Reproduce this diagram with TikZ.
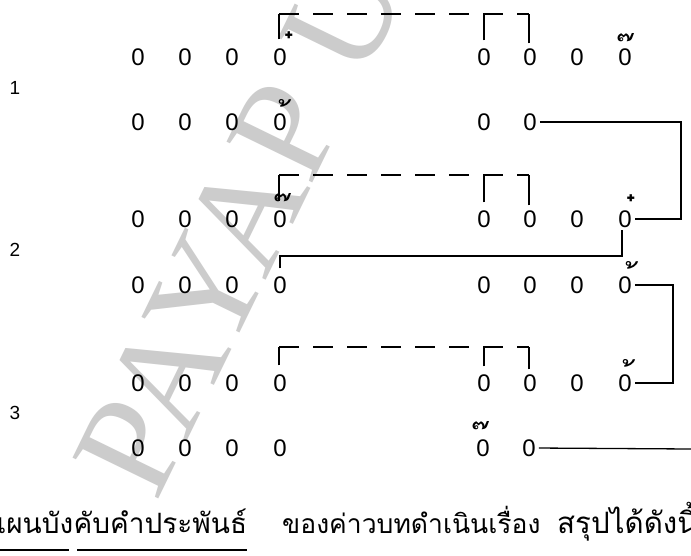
\documentclass[tikz,border=0pt]{standalone}
\usepackage{fontspec}
\setmainfont{Liberation Sans}
\newfontfamily\thaifont[Script=Thai]{Loma}
\newfontfamily\wmfont{Liberation Serif}
\begin{document}
\begin{tikzpicture}[x=1pt,y=-1pt,
  syl/.style={inner sep=0pt, font=\fontsize{24}{24}\selectfont},
  tone/.style={inner sep=0pt, font=\thaifont\fontsize{34}{34}\selectfont},
  rowlab/.style={inner sep=0pt, font=\fontsize{19}{19}\selectfont},
  thtext/.style={inner sep=0pt, anchor=base west, font=\thaifont\fontsize{28}{28}\selectfont},
  conn/.style={line width=1.3pt},
  dashln/.style={line width=1.3pt, dash pattern=on 20pt off 14pt},
  wm/.style={inner sep=0pt, text=black!20, font=\wmfont\fontsize{145}{145}\selectfont}]
\useasboundingbox (0,0) rectangle (691,555);
\fill[white] (0,0) rectangle (691,555);
% watermark
\node[wm, rotate=64] (wm) at (240,225) {PAYAP U};
% row labels
\node[rowlab] (l1) at (15,88) {1};
\node[rowlab] (l2) at (15,250) {2};
\node[rowlab] (l3) at (15,413) {3};
% syllables
\foreach \n/\x in {1/138,2/185,3/232,4/280,5/484,6/530,7/577,8/625}{
  \node[syl] (a\n) at (\x,57) {0};
  \node[syl] (c\n) at (\x,219) {0};
  \node[syl] (d\n) at (\x,285) {0};
  \node[syl] (e\n) at (\x,383) {0};
}
\foreach \n/\x in {1/138,2/185,3/232,4/280,5/484,6/530}{
  \node[syl] (b\n) at (\x,122) {0};
}
\foreach \n/\x in {1/138,2/185,3/232,4/280,5/483,6/529}{
  \node[syl] (f\n) at (\x,448) {0};
}
% tone marks
\node[tone] (ma4) at (295,49) {๋};
\node[tone] (ma8) at (632,51) {๊};
\node[tone] (mb4) at (290,117) {้};
\node[tone] (mc4) at (289,211) {๊};
\node[tone] (mc8) at (637,212) {๋};
\node[tone] (md8) at (637,279) {้};
\node[tone] (me8) at (634,377) {้};
\node[tone] (mf5) at (487,439) {๊};
% helper coordinates
\coordinate (k1) at (681,170);
\coordinate (k2) at (622,256);
\coordinate (k3) at (673,330);
\coordinate (k4) at (691,449);
\coordinate (h1) at (400,14);
\coordinate (h2) at (400,175);
\coordinate (h3) at (400,347);
% solid connectors
\draw[conn, shorten <=3pt, shorten >=3pt] (b6.east) -| (k1) |- (c8.east);
\draw[conn, shorten <=8pt, shorten >=2pt] (d4.north) |- (k2) -- (k2 |- c8.south);
\draw[conn, shorten <=3pt, shorten >=3pt] (d8.east) -| (k3) |- (e8.east);
\draw[conn, shorten <=3pt] (f6.east) -- (k4);
% dashed brackets
\foreach \r/\h/\s in {a/h1/9pt,c/h2/9pt,e/h3/9pt}{
  \draw[dashln] ([xshift=-1pt]\r4.north |- \h) -- ([xshift=-1pt]\r6.north |- \h);
  \draw[conn, shorten <=\s] ([xshift=-1pt]\r4.north) -- ([xshift=-1pt]\r4.north |- \h);
  \draw[conn, shorten <=8pt] (\r5.north) -- (\r5.north |- \h);
  \draw[conn, shorten <=5pt] ([xshift=-1pt]\r6.north) -- ([xshift=-1pt]\r6.north |- \h);
}
% bottom text
\node[thtext] (t1) at (-12,533) {แผนบัง};
\node[thtext] (t2) at (t1.base east) {คับคำประพันธ์};
\node[thtext, font=\thaifont\fontsize{26.5}{28}\selectfont] (t3) at (282,533) {ของค่าวบทดำเนินเรื่อง};
\node[thtext, font=\thaifont\fontsize{29.5}{30}\selectfont] (t4) at (557,533) {สรุปได้ดังนี้};
\draw[conn, shorten <=12pt, shorten >=4pt] ([yshift=-17pt]t1.base west) -- ([yshift=-17pt]t1.base east);
\draw[conn, shorten <=4pt] ([yshift=-17pt]t2.base west) -- ([yshift=-17pt]t2.base east);
\end{tikzpicture}
\end{document}
